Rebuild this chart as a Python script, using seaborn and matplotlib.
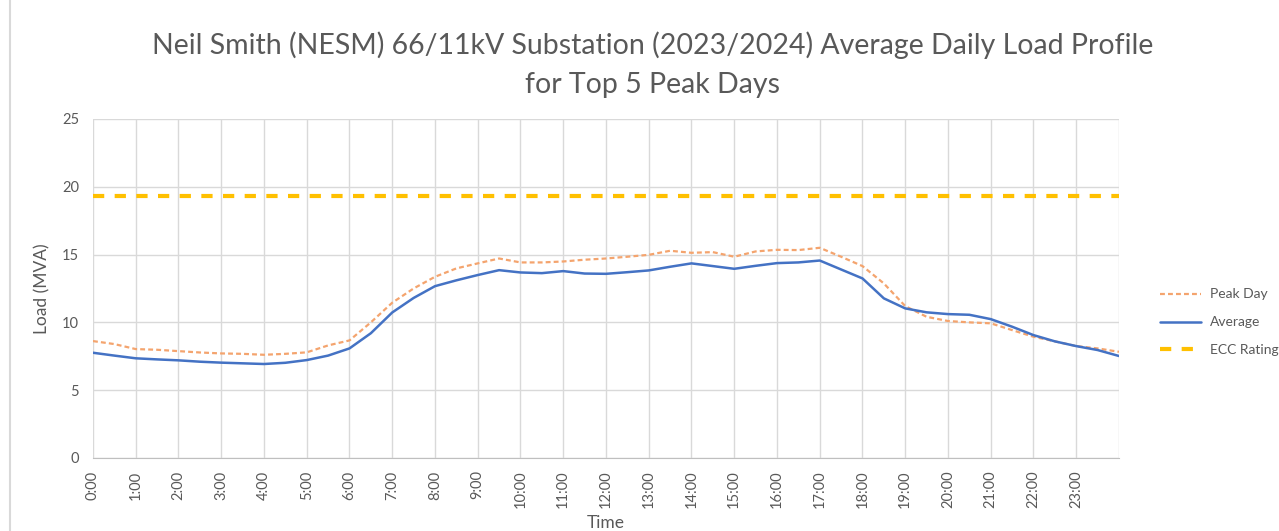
import matplotlib.pyplot as plt
import numpy as np
import pandas as pd
import seaborn as sns
from matplotlib.patches import Rectangle
from matplotlib.ticker import FixedLocator, MultipleLocator

# half-hourly readings, 0:00 .. 24:00
hours = [i * 0.5 for i in range(49)]
peak_day = [
    8.62, 8.40, 8.03, 7.98, 7.88, 7.78, 7.71, 7.68, 7.61, 7.68,
    7.79, 8.30, 8.67, 10.00, 11.45, 12.50, 13.36, 13.98, 14.35, 14.71,
    14.42, 14.42, 14.49, 14.62, 14.71, 14.84, 14.98, 15.28, 15.13, 15.18,
    14.84, 15.23, 15.35, 15.33, 15.50, 14.84, 14.15, 12.87, 11.20, 10.41,
    10.10, 10.00, 9.93, 9.43, 8.94, 8.60, 8.25, 8.08, 7.83,
]
average = [
    7.76, 7.55, 7.35, 7.27, 7.20, 7.10, 7.03, 6.98, 6.93, 7.02,
    7.22, 7.55, 8.08, 9.20, 10.73, 11.80, 12.67, 13.10, 13.49, 13.85,
    13.68, 13.63, 13.78, 13.60, 13.58, 13.70, 13.83, 14.10, 14.35, 14.15,
    13.95, 14.17, 14.37, 14.42, 14.56, 13.90, 13.24, 11.77, 11.03, 10.74,
    10.61, 10.56, 10.24, 9.68, 9.06, 8.60, 8.25, 7.96, 7.52,
]
ecc_rating = 19.3

tick_hours = list(range(24))
tick_labels = [f"{h}:00" for h in tick_hours]
series_names = ["Peak Day", "Average", "ECC Rating"]

df = pd.DataFrame({"Time": hours, "Peak Day": peak_day, "Average": average})
df["ECC Rating"] = ecc_rating
long_df = df.melt(id_vars="Time", var_name="Series", value_name="Load")

sns.set_style("white")
plt.rcParams["font.family"] = ["Lato", "DejaVu Sans"]

grey = "#595959"
fig = plt.figure(figsize=(12.79, 5.31), dpi=100)
ax = fig.add_axes([0.0727, 0.1375, 0.8022, 0.6385])

palette = {"Peak Day": "#F4A46E", "Average": "#4472C4", "ECC Rating": "#FFC000"}
sns.lineplot(data=long_df, x="Time", y="Load", hue="Series", palette=palette,
             ax=ax, legend=False)

styles = {
    "Peak Day": dict(lw=1.6, dashes=(2.2, 1.4)),
    "Average": dict(lw=1.8, dashes=None),
    "ECC Rating": dict(lw=3.0, dashes=(2.7, 2.5)),
}
lines = ax.get_lines()[:3]
for line, name in zip(lines, series_names):
    st = styles[name]
    line.set_linewidth(st["lw"])
    if st["dashes"]:
        line.set_dashes(st["dashes"])

ax.set_xlim(0, 24)
ax.set_ylim(0, 25)
ax.xaxis.set_major_locator(FixedLocator(tick_hours + [24]))
ax.set_xticklabels(tick_labels + [""], rotation=90, color=grey, fontsize=10.5)
ax.xaxis.set_minor_locator(MultipleLocator(1 / 6))
ax.yaxis.set_major_locator(MultipleLocator(5))
ax.tick_params(axis="y", colors=grey, labelsize=10.5, length=0, pad=10)
ax.tick_params(axis="x", which="major", length=5, color="#BFBFBF", pad=4)
ax.tick_params(axis="x", which="minor", length=3, color="#BFBFBF")
ax.grid(True, which="major", color="#D9D9D9", lw=1)
for s in ["top", "right", "left"]:
    ax.spines[s].set_visible(False)
ax.spines["bottom"].set_color("#BFBFBF")

ax.set_xlabel("Time", color=grey, fontsize=12.5, labelpad=5)
ax.set_ylabel("Load (MVA)", color=grey, fontsize=12.5, labelpad=8)

fig.suptitle(
    "Neil Smith (NESM) 66/11kV Substation (2023/2024) Average Daily Load Profile\nfor Top 5 Peak Days",
    x=0.51, y=0.94, fontsize=20.5, color=grey, linespacing=1.6,
)

ax.legend(lines, series_names, loc="center left", bbox_to_anchor=(1.028, 0.40),
          frameon=False, fontsize=10, labelcolor=grey, handlelength=2.9,
          handletextpad=0.7, labelspacing=1.15)

fig.patches.append(Rectangle((0.008, -0.02), 0.995, 1.05, transform=fig.transFigure,
                             fill=False, ec="#D9D9D9", lw=1.5))

fig.savefig("out.png", dpi=100)
